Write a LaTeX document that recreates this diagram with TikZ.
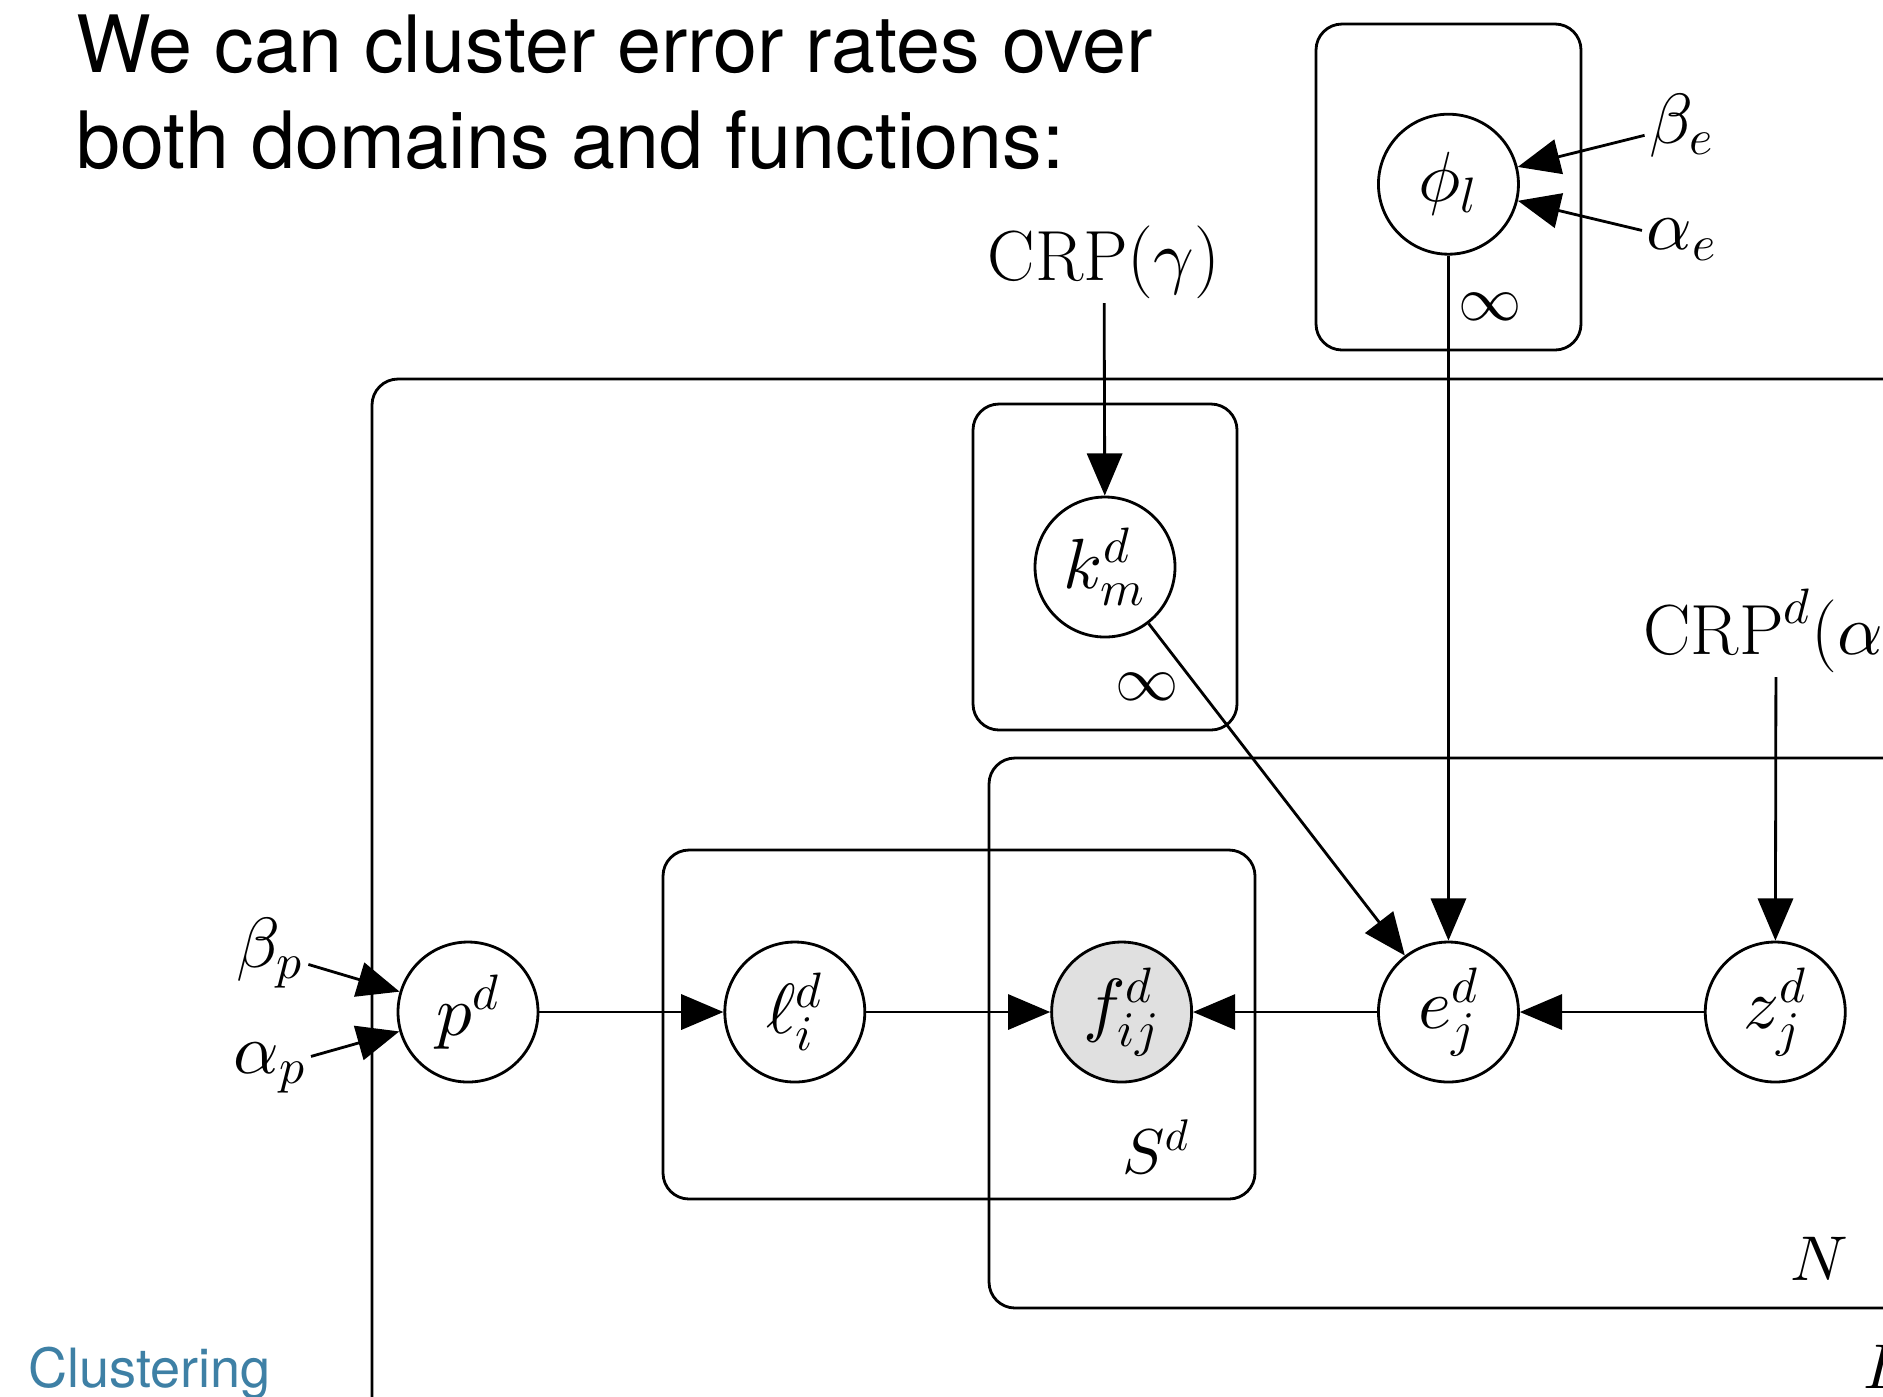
\documentclass[tikz,border=0pt]{standalone}
\usepackage{fontspec}
\usepackage{tikz}
\usetikzlibrary{shapes}
\usetikzlibrary{positioning}
\usetikzlibrary{arrows.meta}
\newfontfamily\headfont{TeX Gyre Heros}
% math in 10pt design sizes, scaled freely
\DeclareFontFamily{OML}{cmmsc}{\skewchar\font127 }
\DeclareFontShape{OML}{cmmsc}{m}{it}{<->cmmi10}{}
\DeclareFontFamily{OT1}{cmrsc}{\hyphenchar\font45 }
\DeclareFontShape{OT1}{cmrsc}{m}{n}{<->cmr10}{}
\DeclareFontFamily{OMS}{cmsysc}{\skewchar\font48 }
\DeclareFontShape{OMS}{cmsysc}{m}{n}{<->cmsy10}{}
\DeclareSymbolFont{letters}{OML}{cmmsc}{m}{it}
\DeclareSymbolFont{operators}{OT1}{cmrsc}{m}{n}
\DeclareSymbolFont{symbols}{OMS}{cmsysc}{m}{n}
\DeclareSymbolFontAlphabet{\mathrm}{operators}
\definecolor{slideblue}{RGB}{62,128,165}
\tikzstyle{latent} = [circle,draw,minimum size=1.4cm,inner sep=0pt]
\tikzstyle{obs} = [latent,fill=black!12]
\tikzstyle{plate} = [draw,rounded corners=0.26cm]
\tikzstyle{platelabel} = [font=\fontsize{18}{22}\selectfont]
\tikzstyle{param} = [inner sep=1pt]
\tikzstyle{slidetext} = [anchor=base west,inner sep=0pt]
\newcommand{\DomIdx}{d}

\begin{document}
\begin{tikzpicture}[font=\fontsize{20.2}{24}\selectfont,line width=0.8pt,node distance=1.84cm]
	
	\tikzstyle{arrow}=[-{Triangle[length=12pt,width=10pt]}];
	
	\useasboundingbox (0,0) rectangle (18.83,-13.96);
	\clip (0,0) rectangle (18.83,-13.96);
	
	\node (title) [slidetext,font=\headfont\fontsize{22.5}{27}\selectfont] at (0.75,-0.72) {We can cluster error rates over};
	\node (title2) [slidetext,font=\headfont\fontsize{22.5}{27}\selectfont] at (0.75,-1.68) {both domains and functions:};
	\node (footer) [slidetext,text=slideblue,font=\headfont\fontsize{15.4}{18}\selectfont] at (0.27,-13.87) {Clustering};
	
	% plates
	\draw[plate] (13.16,-0.24) rectangle (15.81,-3.50);
	\draw[plate] (9.73,-4.04) rectangle (12.37,-7.30);
	\draw[plate] (3.72,-3.79) rectangle (19.50,-14.50);
	\draw[plate] (9.89,-7.58) rectangle (19.50,-13.08);
	\draw[plate] (6.63,-8.50) rectangle (12.55,-11.99);
	
	\node (infphi) [platelabel] at (14.90,-3.07) {$\infty$};
	\node (infk) [platelabel] at (11.47,-6.87) {$\infty$};
	\node (sd) [platelabel] at (11.56,-11.47) {$S^{\DomIdx}$};
	\node (n) [platelabel] at (18.19,-12.59) {$N$};
	\node (ll) [platelabel] at (18.85,-13.67) {$L$};
	
	% variables
	\node (p) [latent] at (4.68,-10.12) {$p^{\DomIdx}$};
	\node (l) [latent,right=of p] {$\ell_i^{\DomIdx}$};
	\node (f) [obs,right=of l] {$f_{ij}^{\DomIdx}$};
	\node (e) [latent,right=of f] {$e_j^{\DomIdx}$};
	\node (z) [latent,right=of e] {$z_j^{\DomIdx}$};
	\node (phi) [latent,above=6.85cm of e] {$\phi_l$};
	\node (k) [latent] at (11.05,-5.67) {$k_m^{\DomIdx}$};
	
	\node (betae) [param] at (16.82,-1.26) {$\beta_e$};
	\node (alphae) [param] at (16.82,-2.40) {$\alpha_e$};
	\node (betap) [param] at (2.70,-9.53) {$\beta_p$};
	\node (alphap) [param] at (2.70,-10.68) {$\alpha_p$};
	\node (crpg) [param,anchor=base] at (11.04,-2.80) {$\mathrm{CRP}(\gamma)$};
	\node (crpd) [param,anchor=base] at (17.76,-6.54) {$\mathrm{CRP}^{\DomIdx}(\alpha)$};
	
	\path[arrow]
		(p) edge (l)
		(l) edge (f)
		(e) edge (f)
		(z) edge (e)
		(k) edge (e)
		(phi) edge (e)
		(crpg) edge (k)
		(crpd) edge (z)
		(betae) edge (phi)
		(alphae) edge (phi)
		(betap) edge (p)
		(alphap) edge (p);
\end{tikzpicture}
\end{document}
